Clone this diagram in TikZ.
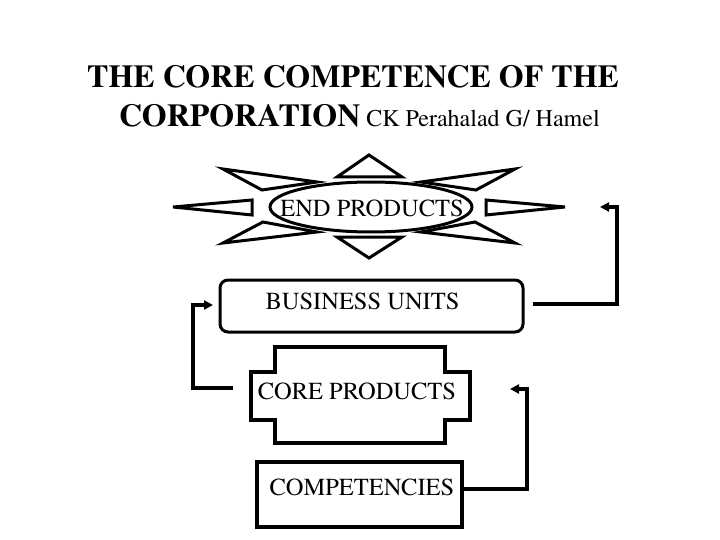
\documentclass[tikz,border=0pt]{standalone}
\usepackage{fontspec}
\setmainfont{texgyretermes}[Extension=.otf, UprightFont=*-regular, BoldFont=*-bold, ItalicFont=*-italic, BoldItalicFont=*-bolditalic]
\usetikzlibrary{arrows.meta,shapes.geometric}
\tikzset{
  thick line/.style={line width=3.5pt},
  ray/.style={draw, line width=3pt, line join=miter},
  boxtext/.style={anchor=base, inner sep=0pt, font=\fontsize{24.5}{28}\selectfont},
  conn/.style={line width=3.5pt, -{Triangle[length=9pt,width=9pt]}},
}
\begin{document}
\begin{tikzpicture}[x=1pt,y=-1pt]
\useasboundingbox (0,0) rectangle (720,540);
% title
\node[anchor=base west, inner sep=0pt, font=\fontsize{32}{36}\selectfont\bfseries] (t1) at (87,88) {THE CORE COMPETENCE OF THE};
\node[anchor=base west, inner sep=0pt, font=\fontsize{32}{36}\selectfont] (t2) at (119,127) {\bfseries CORPORATION\mdseries\fontsize{24}{28}\selectfont{} CK Perahalad G/ Hamel};
% starburst
\node[draw, ellipse, line width=3pt, minimum width=202pt, minimum height=50pt, inner sep=0pt] (endp) at (371,207) {};
\node[boxtext] (endt) at (372,217) {END PRODUCTS};
\draw[ray] (369,155) -- (402,177) -- (337,177) -- cycle;
\draw[ray] (369,258) -- (402,237) -- (337,237) -- cycle;
\draw[ray] (173,207) -- (252,200) -- (252,215) -- cycle;
\draw[ray] (565,207) -- (486,200) -- (486,215) -- cycle;
\draw[ray] (223,169) -- (317,182) -- (262,190) -- cycle;
\draw[ray] (515,169) -- (421,182) -- (476,190) -- cycle;
\draw[ray] (223,243) -- (263,222) -- (317,232) -- cycle;
\draw[ray] (515,243) -- (475,222) -- (421,232) -- cycle;
% business units
\node[draw, line width=3pt, rounded corners=8pt, minimum width=303pt, minimum height=52pt, inner sep=0pt] (bu) at (371.5,306) {};
\node[boxtext] (but) at (362.5,309) {BUSINESS UNITS};
% core products
\draw[thick line, line join=miter] (275,347) -- (445,347) -- (445,372) -- (470,372) -- (470,420) -- (445,420) -- (445,443) -- (275,443) -- (275,420) -- (251,420) -- (251,372) -- (275,372) -- cycle;
\node[inner sep=0pt, minimum width=219pt, minimum height=96pt] (cp) at (360.5,395) {};
\node[boxtext] (cpt) at (357,399) {CORE PRODUCTS};
% competencies
\node[draw, line width=3.5pt, minimum width=205pt, minimum height=65pt, inner sep=0pt] (comp) at (359.5,494.5) {};
\node[boxtext] (compt) at (362,495) {COMPETENCIES};
% connectors
\coordinate (r1) at (533,304);
\coordinate (r2) at (617,304);
\coordinate (r3) at (617,207);
\coordinate (r4) at (600,207);
\draw[conn] (r1) -- (r2) -- (r3) -- (r4);
\coordinate (l1) at (233,388);
\coordinate (l2) at (193,388);
\coordinate (l3) at (193,305);
\coordinate (l4) at (213,305);
\draw[conn] (l1) -- (l2) -- (l3) -- (l4);
\coordinate (b1) at (comp.east |- 0,489);
\coordinate (b2) at (527,489);
\coordinate (b3) at (527,389);
\coordinate (b4) at (510,389);
\draw[conn] (b1) -- (b2) -- (b3) -- (b4);
\end{tikzpicture}
\end{document}
